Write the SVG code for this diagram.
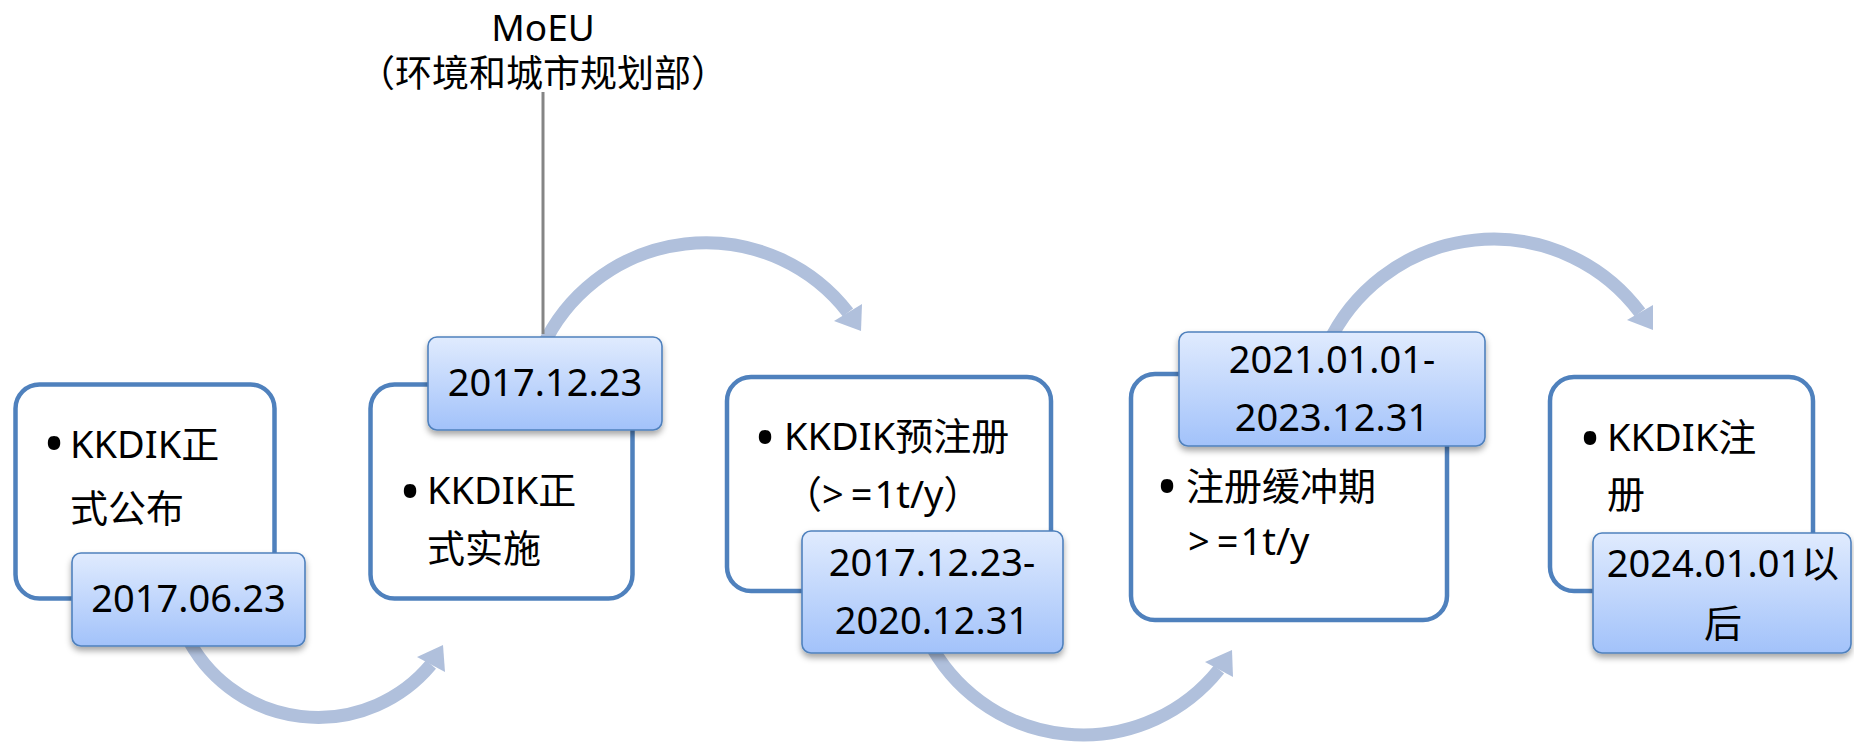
<svg xmlns="http://www.w3.org/2000/svg" width="1854" height="743" viewBox="0 0 1854 743">
<style>
.box{fill:#ffffff;stroke:#4f81bd;stroke-width:4.5}
.date{fill:url(#dg);stroke:#4f81bd;stroke-width:1.6;filter:url(#sh)}
.t{font-family:"Noto Sans","Noto Sans CJK SC",sans-serif;font-size:38px;fill:#000000}
.m{text-anchor:middle}
.b{font-family:"Noto Sans","Noto Sans CJK SC",sans-serif;font-size:56px;fill:#000000;text-anchor:middle}
.arc{fill:none;stroke:#b0c0dc;stroke-width:13}
.head{fill:#b0c0dc}
.lead{stroke:#858585;stroke-width:3}
.sp{letter-spacing:7px}
.sq{letter-spacing:2px}
</style>
<defs>
<linearGradient id="dg" x1="0" y1="0" x2="0" y2="1">
<stop offset="0" stop-color="#e0ebfe"/>
<stop offset="1" stop-color="#a2c2fa"/>
</linearGradient>
<filter id="sh" x="-10%" y="-10%" width="120%" height="135%">
<feDropShadow dx="0" dy="4" stdDeviation="3" flood-color="#000000" flood-opacity="0.35"/>
</filter>
</defs>
<rect width="1854" height="743" fill="#ffffff"/>

<g id="connectors">
<path class="arc" d="M186 635 A147 147 0 0 0 431 664.5"/>
<polygon class="head" points="443,645 417,657 445,672"/>
<path class="arc" d="M542 348 A180 180 0 0 1 848 312.5"/>
<polygon class="head" points="862,304 861,331 834,321"/>
<path class="arc" d="M928 640 A174 174 0 0 0 1219 669.5"/>
<polygon class="head" points="1232,650 1205,662 1233,677"/>
<path class="arc" d="M1327.5 345 A183 183 0 0 1 1640 312.5"/>
<polygon class="head" points="1653,305 1653,330 1627,320"/>
<line class="lead" x1="543" y1="92" x2="543" y2="334"/>
</g>

<g id="moeu">
<text class="t m" x="543" y="41" style="font-size:37px">MoEU</text>
<text class="t m" x="543" y="87" style="font-size:37px">（环境和城市规划部）</text>
</g>

<g id="node1">
<rect class="box" x="15.5" y="384.5" width="259" height="214" rx="24"/>
<text class="b" x="54" y="464">•</text>
<text class="t" x="70" y="458">KKDIK正</text>
<text class="t" x="70" y="522">式公布</text>
<rect class="date" x="72" y="553" width="233" height="93" rx="9"/>
<text class="t m" x="188.5" y="612">2017.06.23</text>
</g>

<g id="node2">
<rect class="box" x="370.5" y="384.5" width="262" height="214" rx="24"/>
<text class="b" x="410" y="512">•</text>
<text class="t" x="427" y="504">KKDIK正</text>
<text class="t" x="427" y="562">式实施</text>
<rect class="date" x="428" y="337" width="234" height="93" rx="9"/>
<text class="t m" x="545" y="396">2017.12.23</text>
</g>

<g id="node3">
<rect class="box" x="727" y="377" width="324" height="214" rx="24"/>
<text class="b" x="765" y="458">•</text>
<text class="t" x="784" y="450">KKDIK预注册</text>
<text class="t" x="784" y="508">（<tspan class="sp">&gt;</tspan><tspan class="sq">=</tspan>1t/y）</text>
<rect class="date" x="802" y="531" width="261" height="122" rx="9"/>
<text class="t m" x="932" y="576">2017.12.23-</text>
<text class="t m" x="932" y="634">2020.12.31</text>
</g>

<g id="node4">
<rect class="box" x="1131" y="374" width="316" height="246" rx="24"/>
<text class="b" x="1167" y="507">•</text>
<text class="t" x="1186" y="500">注册缓冲期</text>
<text class="t" x="1188" y="555"><tspan class="sp">&gt;</tspan><tspan class="sq">=</tspan>1t/y</text>
<rect class="date" x="1179" y="332" width="306" height="114" rx="9"/>
<text class="t m" x="1332" y="373">2021.01.01-</text>
<text class="t m" x="1332" y="431">2023.12.31</text>
</g>

<g id="node5">
<rect class="box" x="1550" y="377" width="263" height="214" rx="24"/>
<text class="b" x="1590" y="459">•</text>
<text class="t" x="1607" y="451">KKDIK注</text>
<text class="t" x="1607" y="508">册</text>
<rect class="date" x="1593" y="533" width="258" height="120" rx="9"/>
<text class="t m" x="1723" y="577">2024.01.01以</text>
<text class="t m" x="1723" y="637">后</text>
</g>
</svg>
